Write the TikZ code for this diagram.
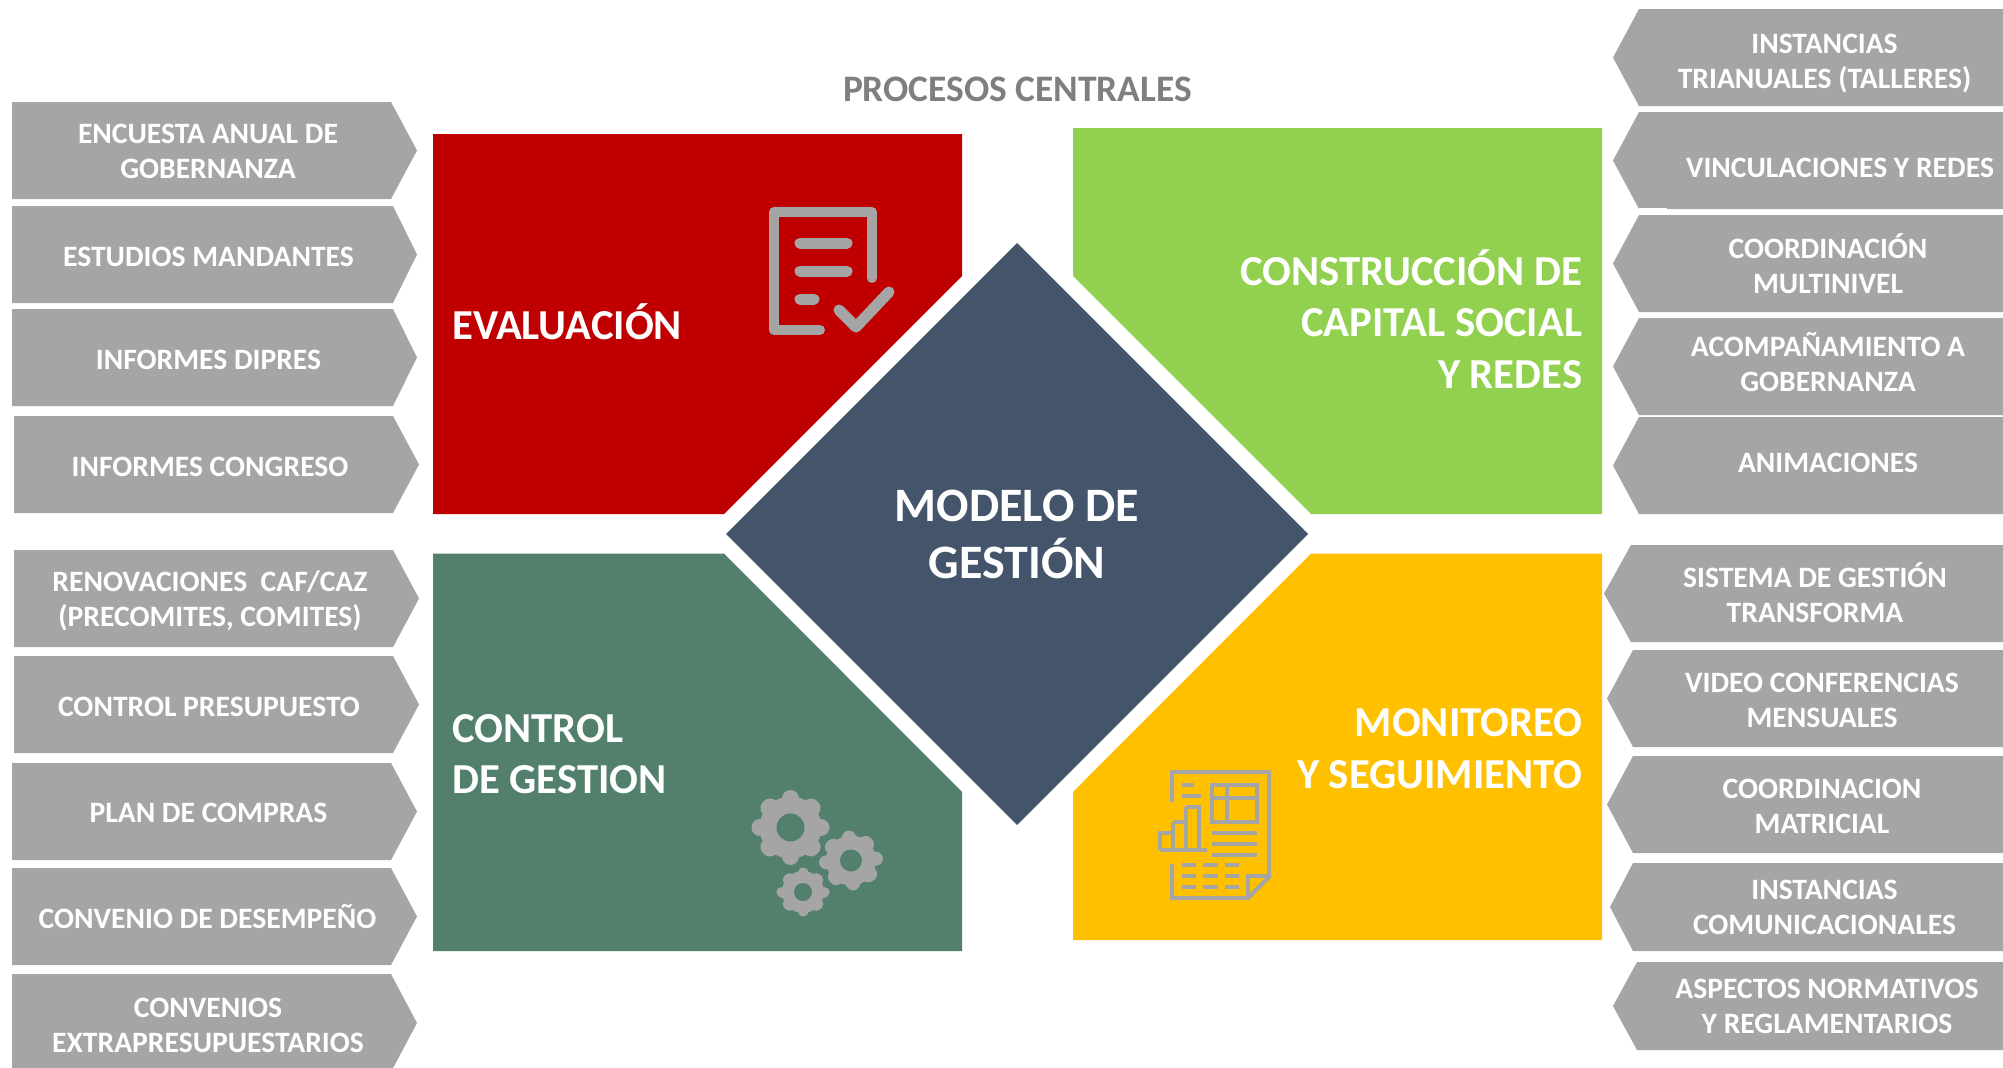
\documentclass[tikz,border=0pt]{standalone}
\usepackage{fontspec}
\setmainfont{Carlito}[Ligatures=TeX]
\definecolor{pgray}{HTML}{A5A5A5}
\definecolor{ired}{HTML}{C00000}
\definecolor{igreen}{HTML}{92D050}
\definecolor{iteal}{HTML}{52806C}
\definecolor{iyellow}{HTML}{FFC000}
\definecolor{inavy}{HTML}{44546A}
\definecolor{ttl}{HTML}{7F7F7F}
\tikzset{
  ptext/.style={text=white,font=\fontsize{29.6}{35}\selectfont\bfseries,align=center,inner sep=0pt},
  qtext/.style={text=white,font=\fontsize{42.7}{51.5}\selectfont\bfseries,inner sep=0pt},
  ictn/.style={draw=pgray,line width=#1,fill=none,line cap=round,line join=round},
}
% left pentagon: name, top, bottom, left, shoulder, tip, text x, text y offset, text
\newcommand{\lpent}[9]{%
  \fill[pgray] (#4,#2) -- (#5,#2) -- (#6,{(#2+#3)/2}) -- (#5,#3) -- (#4,#3) -- cycle;
  \node[ptext] (#1) at (#7,{(#2+#3)/2+#8}) {#9};}
% right pentagon
\newcommand{\rpent}[8]{%
  \fill[pgray] (2003,#2) -- (#4,#2) -- (#5,{(#2+#3)/2}) -- (#4,#3) -- (2003,#3) -- cycle;
  \node[ptext] (#1) at (#6,{(#2+#3)/2+#7}) {#8};}
% gear: cx, cy, root radius, tooth radius, tooth width, hole radius, start angle
\newcommand{\geargl}[7]{%
  \fill[pgray] (#1,#2) circle[radius=#3];
  \foreach \a in {0,45,...,315}{
    \draw[pgray,line width=#5,line cap=round] (#1,#2) ++ (\a+#7:#3-2) -- ++(\a+#7:{#4-#3+2-#5/2});
  }
  \fill[iteal] (#1,#2) circle[radius=#6];}
\begin{document}
\begin{tikzpicture}[x=1pt,y=-1pt]
\useasboundingbox (0,0) rectangle (2003,1068);
\clip (0,0) rectangle (2003,1068);
\fill[white] (0,0) rectangle (2003,1068);
% quadrants
\fill[ired] (433,134) -- (962,134) -- (962,276) -- (724,514) -- (433,514) -- cycle;
\fill[igreen] (1073,128) -- (1602,128) -- (1602,514) -- (1311,514) -- (1073,276) -- cycle;
\fill[iteal] (433,553.5) -- (724,553.5) -- (962,792) -- (962,951) -- (433,951) -- cycle;
\fill[iyellow] (1311,553.5) -- (1602,553.5) -- (1602,940) -- (1073,940) -- (1073,792) -- cycle;
\fill[inavy] (1017,243) -- (1308,534) -- (1017,825) -- (726,534) -- cycle;
% texts
\node[text=ttl,font=\fontsize{37.4}{45}\selectfont\bfseries,inner sep=0pt] (titulo) at (1017.5,89) {PROCESOS CENTRALES};
\node[text=white,font=\fontsize{48}{57}\selectfont\bfseries,align=center,inner sep=0pt] (modelo) at (1017,534.5) {MODELO DE\\GESTIÓN};
\node[qtext,anchor=west] (eval) at (452,322) {EVALUACIÓN};
\node[qtext,anchor=east,align=right] (capital) at (1582.5,319) {CONSTRUCCIÓN DE\\CAPITAL SOCIAL\\Y REDES};
\node[qtext,anchor=west,align=left] (control) at (452,754) {CONTROL\\DE GESTION};
\node[qtext,anchor=east,align=right] (monitoreo) at (1582.5,748.5) {MONITOREO\\Y SEGUIMIENTO};
% left column
\lpent{l1}{102}{199}{12}{391}{417}{208}{1.2}{ENCUESTA ANUAL DE\\GOBERNANZA}
\lpent{l2}{206}{303}{12}{393}{417}{208.5}{2.5}{ESTUDIOS MANDANTES}
\lpent{l3}{309}{406}{12}{393}{417}{208.5}{2.5}{INFORMES DIPRES}
\lpent{l4}{416}{513}{14}{393}{419}{210}{2}{INFORMES CONGRESO}
\lpent{l5}{550}{647}{14}{393}{419}{210}{2.5}{RENOVACIONES\ \ CAF/CAZ\\(PRECOMITES, COMITES)}
\lpent{l6}{656}{753}{14}{393}{419}{209}{2.5}{CONTROL PRESUPUESTO}
\lpent{l7}{763}{860}{12}{391}{417}{208.5}{1.5}{PLAN DE COMPRAS}
\lpent{l8}{868}{965}{12}{391}{417}{207.5}{0}{CONVENIO DE DESEMPEÑO}
\lpent{l9}{974}{1072}{12}{391}{417}{208}{2.5}{CONVENIOS\\EXTRAPRESUPUESTARIOS}
% right column
\rpent{r1}{9}{106}{1639}{1613}{1824.5}{6}{INSTANCIAS\\TRIANUALES (TALLERES)}
\rpent{r2}{112}{209}{1639}{1613}{1840}{7.5}{VINCULACIONES Y REDES}
\fill[white] (1639,208) rectangle (1667,210);
\rpent{r3}{215}{312}{1639}{1613}{1828}{0.5}{COORDINACIÓN\\MULTINIVEL}
\rpent{r4}{318}{415}{1639}{1613}{1828}{-4.5}{ACOMPAÑAMIENTO A\\GOBERNANZA}
\rpent{r5}{417}{514}{1639}{1613}{1828}{-2.5}{ANIMACIONES}
\rpent{r6}{545}{642}{1631}{1604}{1815}{-1}{SISTEMA DE GESTIÓN\\TRANSFORMA}
\rpent{r7}{650}{747}{1633}{1607}{1822}{2}{VIDEO CONFERENCIAS\\MENSUALES}
\rpent{r8}{756}{853}{1633}{1607}{1822}{2}{COORDINACION\\MATRICIAL}
\rpent{r9}{863}{951}{1633}{1610}{1824.5}{0.5}{INSTANCIAS\\COMUNICACIONALES}
\rpent{r10}{962}{1050}{1637}{1613}{1827}{0.5}{ASPECTOS NORMATIVOS\\Y REGLAMENTARIOS}
% checklist icon
\draw[ictn=10pt] (872,278) -- (872,212) -- (774,212) -- (774,330) -- (820,330);
\draw[ictn=11pt] (800,243) -- (847,243) (800,271) -- (847,271) (800,299) -- (814,299);
\draw[ictn=11pt] (839,310) -- (856,327) -- (889,292);
% gears
\geargl{790.5}{827.5}{31}{39}{17pt}{14}{0}
\geargl{851}{860.5}{25}{32}{14pt}{11}{-5}
\geargl{803}{892}{21}{26.5}{11pt}{9}{0}
% report icon
\begin{scope}[ictn=4pt,line cap=butt,line join=miter]
\draw (1172,802) -- (1172,772) -- (1269,772) -- (1269,877) -- (1248,898) -- (1172,898) -- (1172,864);
\draw (1248,898) -- (1248,876) -- (1269,876);
\draw (1182,785) -- (1194,785) (1182,796) -- (1201,796);
\draw (1212,785) rectangle (1257,822) (1212,798) -- (1257,798) (1227,785) -- (1227,822);
\draw (1212,833) -- (1257,833) (1212,844) -- (1257,844) (1212,855) -- (1257,855);
\draw (1160,850) -- (1207,850) (1160,850) -- (1160,833) -- (1173,833) -- (1173,850);
\draw (1173,822) -- (1186,822) -- (1186,850) (1173,833) -- (1173,822);
\draw (1186,807) -- (1199,807) -- (1199,850) (1186,822) -- (1186,807);
\foreach \yy in {865,876,887}{
  \draw (1182,\yy) -- (1196,\yy) (1203,\yy) -- (1218,\yy) (1225,\yy) -- (1239,\yy);
}
\end{scope}
\end{tikzpicture}
\end{document}
